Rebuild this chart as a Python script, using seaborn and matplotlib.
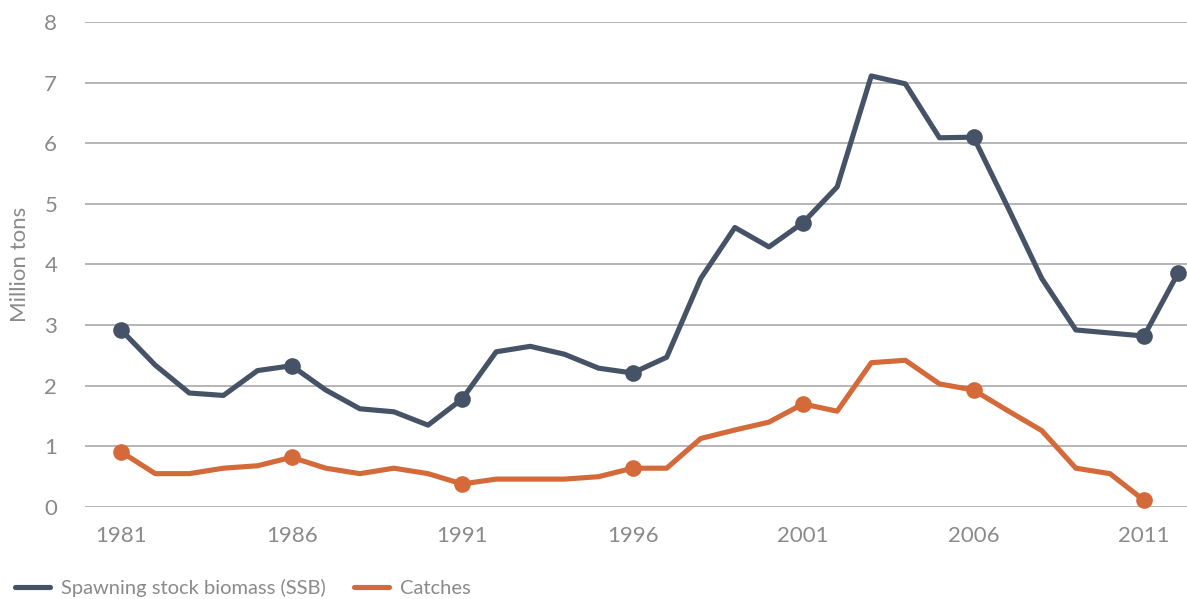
import matplotlib
matplotlib.use("Agg")
import matplotlib.pyplot as plt
from matplotlib.lines import Line2D
import pandas as pd
import seaborn as sns

years = list(range(1981, 2013))
ssb = [2.92, 2.34, 1.88, 1.84, 2.25, 2.33, 1.93, 1.62, 1.57, 1.35, 1.78,
       2.56, 2.65, 2.52, 2.29, 2.21, 2.47, 3.77, 4.61, 4.29, 4.69, 5.28,
       7.11, 6.98, 6.09, 6.10, 4.95, 3.77, 2.92, 2.87, 2.82, 3.86]
catches = [0.91, 0.55, 0.55, 0.64, 0.68, 0.82, 0.64, 0.55, 0.64, 0.55, 0.38,
           0.46, 0.46, 0.46, 0.50, 0.64, 0.64, 1.13, 1.27, 1.40, 1.70, 1.58,
           2.38, 2.42, 2.03, 1.93, 1.59, 1.26, 0.64, 0.55, 0.11]
xticks = [1981, 1986, 1991, 1996, 2001, 2006, 2011]

ssb_color = "#465366"
catch_color = "#d4693a"
grey = "#8a8a8a"

df_ssb = pd.DataFrame({"year": years, "value": ssb})
df_catch = pd.DataFrame({"year": years[:len(catches)], "value": catches})

sns.set_style("white")
plt.rcParams["font.family"] = ["Lato", "DejaVu Sans"]

fig = plt.figure(figsize=(11.87, 5.99), dpi=100)
ax = fig.add_axes([0.0716, 0.1536, 0.9284, 0.8097])

# markers every 5 years, plus the last SSB point
ssb_marks = [i for i, y in enumerate(years) if y in xticks or y == 2012]
catch_marks = [i for i, y in enumerate(years[:len(catches)]) if y in xticks]

sns.lineplot(data=df_ssb, x="year", y="value", color=ssb_color, lw=3.7,
             marker="o", markersize=12, markevery=ssb_marks,
             markeredgewidth=0, ax=ax, clip_on=False, zorder=3)
sns.lineplot(data=df_catch, x="year", y="value", color=catch_color, lw=3.7,
             marker="o", markersize=12, markevery=catch_marks,
             markeredgewidth=0, ax=ax, clip_on=False, zorder=3)

ax.set_xlim(1979.94, 2012.26)
ax.set_ylim(0, 8)
ax.set_yticks(range(0, 9))
ax.set_xticks(xticks)
ax.grid(axis="y", color="#b0b0b0", lw=1.3)
ax.grid(axis="x", visible=False)
for s in ax.spines.values():
    s.set_visible(False)
ax.tick_params(axis="both", length=0, labelsize=16, labelcolor=grey)
ax.tick_params(axis="x", pad=14)
ax.tick_params(axis="y", pad=20)
ax.set_xlabel("")
ax.set_ylabel("Million tons", fontsize=16, color=grey, labelpad=10)

handles = [Line2D([], [], color=ssb_color, lw=3.7, solid_capstyle="round"),
           Line2D([], [], color=catch_color, lw=3.7, solid_capstyle="round")]
leg = fig.legend(handles, ["Spawning stock biomass (SSB)", "Catches"],
                 loc="center left", bbox_to_anchor=(-0.003, 0.018), ncol=2,
                 frameon=False, fontsize=14.5, handlelength=1.75,
                 columnspacing=1.4, handletextpad=0.55)
for t in leg.get_texts():
    t.set_color(grey)

fig.savefig("out.png", dpi=100)
